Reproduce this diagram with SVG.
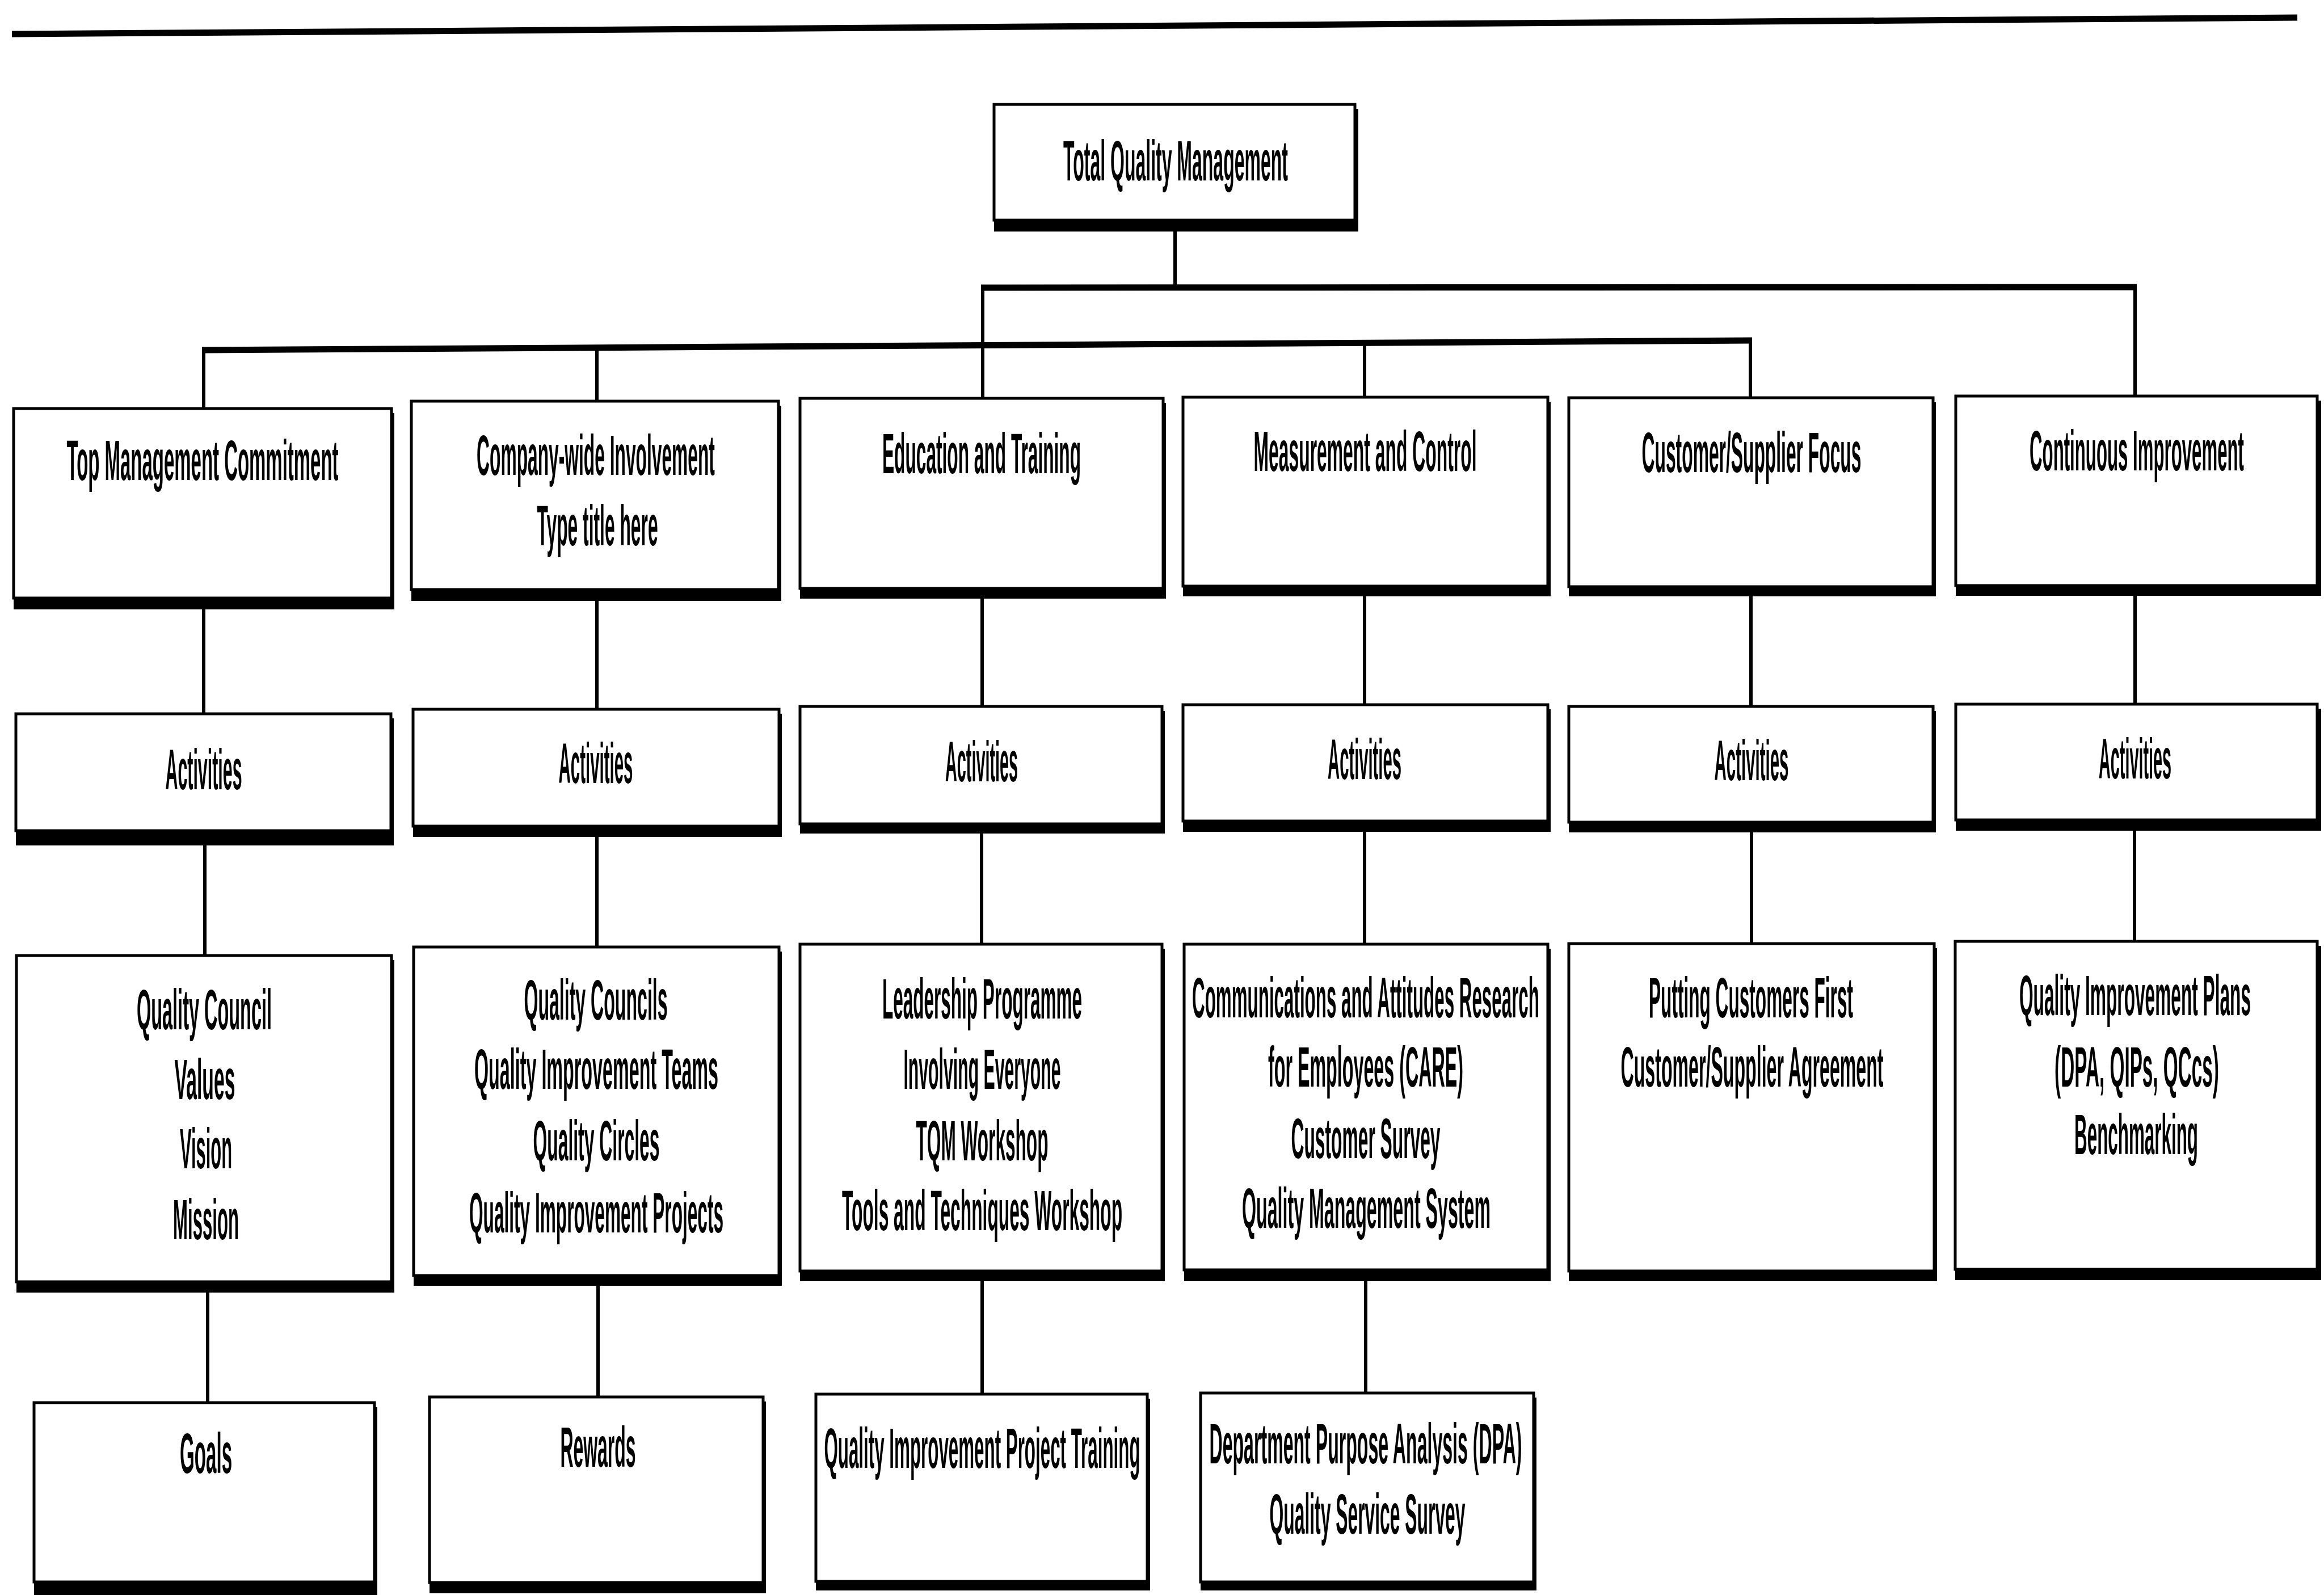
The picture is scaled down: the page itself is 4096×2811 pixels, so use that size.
<svg xmlns="http://www.w3.org/2000/svg" width="4096" height="2811" viewBox="0 0 4096 2811">
<style>
  .bg { fill: #ffffff; }
  .box { fill: #ffffff; stroke: #000000; stroke-width: 5; }
  .sh { fill: #000000; }
  .t { font-family: "Liberation Sans", Arial, sans-serif; font-weight: bold; font-size: 100px; text-anchor: middle; fill: #000000; }
  .c { stroke: #000000; stroke-width: 6; fill: none; }
  .bar { stroke: #000000; stroke-width: 11; fill: none; }
</style>
<rect class="bg" x="0" y="0" width="4096" height="2811"/>

<!-- header rule -->
<line class="bar" x1="21" y1="60" x2="4049" y2="31"/>

<!-- connectors -->
<g id="connectors">
  <line class="c" x1="2071" y1="408" x2="2071" y2="507"/>
  <line class="bar" x1="1729" y1="507" x2="3766" y2="506"/>
  <line class="c" x1="1732" y1="507" x2="1732" y2="702"/>
  <line class="c" x1="3763" y1="506" x2="3763" y2="698"/>
  <line class="bar" x1="356" y1="617" x2="3088" y2="600"/>
  <line class="c" x1="359" y1="617" x2="359" y2="720"/>
  <line class="c" x1="1052" y1="612" x2="1052" y2="707"/>
  <line class="c" x1="2405" y1="604" x2="2405" y2="700"/>
  <line class="c" x1="3085" y1="600" x2="3085" y2="701"/>

  <line class="c" x1="359" y1="1074" x2="359" y2="1258"/>
  <line class="c" x1="1052" y1="1059" x2="1052" y2="1250"/>
  <line class="c" x1="1731" y1="1055" x2="1731" y2="1245"/>
  <line class="c" x1="2405" y1="1051" x2="2405" y2="1242"/>
  <line class="c" x1="3086" y1="1051" x2="3086" y2="1245"/>
  <line class="c" x1="3763" y1="1050" x2="3763" y2="1241"/>

  <line class="c" x1="361" y1="1490" x2="361" y2="1684"/>
  <line class="c" x1="1052" y1="1475" x2="1052" y2="1669"/>
  <line class="c" x1="1730" y1="1469" x2="1730" y2="1664"/>
  <line class="c" x1="2405" y1="1466" x2="2405" y2="1664"/>
  <line class="c" x1="3087" y1="1467" x2="3087" y2="1663"/>
  <line class="c" x1="3762" y1="1464" x2="3762" y2="1659"/>

  <line class="c" x1="366" y1="2278" x2="366" y2="2472"/>
  <line class="c" x1="1054" y1="2266" x2="1054" y2="2462"/>
  <line class="c" x1="1731" y1="2258" x2="1731" y2="2457"/>
  <line class="c" x1="2407" y1="2258" x2="2407" y2="2455"/>
</g>

<!-- level 1 -->
<g id="n-tqm">
  <rect class="sh" x="1752" y="192" width="642" height="216"/>
  <rect class="box" x="1752" y="184" width="636" height="204"/>
  <text class="t" transform="translate(2072 318) scale(0.32 1)" textLength="1237" lengthAdjust="spacingAndGlyphs">Total Quality Management</text>
</g>

<!-- level 2 -->
<g id="n-top-mgmt">
  <rect class="sh" x="24" y="728" width="671" height="346"/>
  <rect class="box" x="24" y="720" width="666" height="334"/>
  <text class="t" transform="translate(357 846) scale(0.32 1)" textLength="1497" lengthAdjust="spacingAndGlyphs">Top Management Commitment</text>
</g>
<g id="n-company">
  <rect class="sh" x="725" y="715" width="652" height="344"/>
  <rect class="box" x="725" y="707" width="647" height="332"/>
  <text class="t" transform="translate(1050 837) scale(0.32 1)" textLength="1312" lengthAdjust="spacingAndGlyphs">Company-wide Involvement</text>
  <text class="t" transform="translate(1053 961) scale(0.32 1)" textLength="666" lengthAdjust="spacingAndGlyphs">Type title here</text>
</g>
<g id="n-education">
  <rect class="sh" x="1410" y="710" width="645" height="345"/>
  <rect class="box" x="1410" y="702" width="640" height="335"/>
  <text class="t" transform="translate(1730 834) scale(0.32 1)" textLength="1094" lengthAdjust="spacingAndGlyphs">Education and Training</text>
</g>
<g id="n-measurement">
  <rect class="sh" x="2085" y="708" width="648" height="343"/>
  <rect class="box" x="2085" y="700" width="643" height="333"/>
  <text class="t" transform="translate(2406 830) scale(0.32 1)" textLength="1228" lengthAdjust="spacingAndGlyphs">Measurement and Control</text>
</g>
<g id="n-customer">
  <rect class="sh" x="2765" y="709" width="647" height="342"/>
  <rect class="box" x="2765" y="701" width="642" height="333"/>
  <text class="t" transform="translate(3087 832) scale(0.32 1)" textLength="1209" lengthAdjust="spacingAndGlyphs">Customer/Supplier Focus</text>
</g>
<g id="n-continuous">
  <rect class="sh" x="3447" y="706" width="644" height="344"/>
  <rect class="box" x="3447" y="698" width="637" height="334"/>
  <text class="t" transform="translate(3766 829) scale(0.32 1)" textLength="1181" lengthAdjust="spacingAndGlyphs">Continuous Improvement</text>
</g>

<!-- level 3: activities -->
<g id="n-act-1">
  <rect class="sh" x="28" y="1266" width="666" height="224"/>
  <rect class="box" x="28" y="1258" width="661" height="206"/>
  <text class="t" transform="translate(359 1391) scale(0.32 1)" textLength="422" lengthAdjust="spacingAndGlyphs">Activities</text>
</g>
<g id="n-act-2">
  <rect class="sh" x="728" y="1258" width="650" height="217"/>
  <rect class="box" x="728" y="1250" width="645" height="206"/>
  <text class="t" transform="translate(1050 1380) scale(0.32 1)" textLength="409" lengthAdjust="spacingAndGlyphs">Activities</text>
</g>
<g id="n-act-3">
  <rect class="sh" x="1410" y="1253" width="643" height="216"/>
  <rect class="box" x="1410" y="1245" width="638" height="207"/>
  <text class="t" transform="translate(1730 1377) scale(0.32 1)" textLength="400" lengthAdjust="spacingAndGlyphs">Activities</text>
</g>
<g id="n-act-4">
  <rect class="sh" x="2085" y="1250" width="648" height="216"/>
  <rect class="box" x="2085" y="1242" width="643" height="205"/>
  <text class="t" transform="translate(2405 1373) scale(0.32 1)" textLength="406" lengthAdjust="spacingAndGlyphs">Activities</text>
</g>
<g id="n-act-5">
  <rect class="sh" x="2765" y="1253" width="647" height="214"/>
  <rect class="box" x="2765" y="1245" width="642" height="204"/>
  <text class="t" transform="translate(3087 1375) scale(0.32 1)" textLength="409" lengthAdjust="spacingAndGlyphs">Activities</text>
</g>
<g id="n-act-6">
  <rect class="sh" x="3447" y="1249" width="644" height="215"/>
  <rect class="box" x="3447" y="1241" width="637" height="204"/>
  <text class="t" transform="translate(3763 1372) scale(0.32 1)" textLength="400" lengthAdjust="spacingAndGlyphs">Activities</text>
</g>

<!-- level 4: programmes -->
<g id="n-council">
  <rect class="sh" x="29" y="1692" width="666" height="586"/>
  <rect class="box" x="29" y="1684" width="661" height="575"/>
  <text class="t" transform="translate(360 1814) scale(0.32 1)" textLength="744" lengthAdjust="spacingAndGlyphs">Quality Council</text>
  <text class="t" transform="translate(361 1937) scale(0.32 1)" textLength="334" lengthAdjust="spacingAndGlyphs">Values</text>
  <text class="t" transform="translate(363 2059) scale(0.32 1)" textLength="288" lengthAdjust="spacingAndGlyphs">Vision</text>
  <text class="t" transform="translate(363 2184) scale(0.32 1)" textLength="362" lengthAdjust="spacingAndGlyphs">Mission</text>
</g>
<g id="n-teams">
  <rect class="sh" x="729" y="1677" width="649" height="589"/>
  <rect class="box" x="729" y="1669" width="644" height="579"/>
  <text class="t" transform="translate(1050 1797) scale(0.32 1)" textLength="791" lengthAdjust="spacingAndGlyphs">Quality Councils</text>
  <text class="t" transform="translate(1051 1919) scale(0.32 1)" textLength="1344" lengthAdjust="spacingAndGlyphs">Quality Improvement Teams</text>
  <text class="t" transform="translate(1051 2045) scale(0.32 1)" textLength="697" lengthAdjust="spacingAndGlyphs">Quality Circles</text>
  <text class="t" transform="translate(1051 2172) scale(0.32 1)" textLength="1400" lengthAdjust="spacingAndGlyphs">Quality Improvement Projects</text>
</g>
<g id="n-leadership">
  <rect class="sh" x="1410" y="1672" width="643" height="586"/>
  <rect class="box" x="1410" y="1664" width="638" height="576"/>
  <text class="t" transform="translate(1731 1795) scale(0.32 1)" textLength="1100" lengthAdjust="spacingAndGlyphs">Leadership Programme</text>
  <text class="t" transform="translate(1731 1919) scale(0.32 1)" textLength="866" lengthAdjust="spacingAndGlyphs">Involving Everyone</text>
  <text class="t" transform="translate(1731 2045) scale(0.32 1)" textLength="728" lengthAdjust="spacingAndGlyphs">TQM Workshop</text>
  <text class="t" transform="translate(1731 2168) scale(0.32 1)" textLength="1544" lengthAdjust="spacingAndGlyphs">Tools and Techniques Workshop</text>
</g>
<g id="n-care">
  <rect class="sh" x="2087" y="1672" width="646" height="586"/>
  <rect class="box" x="2087" y="1664" width="641" height="574"/>
  <text class="t" transform="translate(2407 1793) scale(0.32 1)" textLength="1912" lengthAdjust="spacingAndGlyphs">Communications and Attitudes Research</text>
  <text class="t" transform="translate(2407 1915) scale(0.32 1)" textLength="1075" lengthAdjust="spacingAndGlyphs">for Employees (CARE)</text>
  <text class="t" transform="translate(2407 2041) scale(0.32 1)" textLength="822" lengthAdjust="spacingAndGlyphs">Customer Survey</text>
  <text class="t" transform="translate(2408 2164) scale(0.32 1)" textLength="1369" lengthAdjust="spacingAndGlyphs">Quality Management System</text>
</g>
<g id="n-customers-first">
  <rect class="sh" x="2765" y="1671" width="649" height="587"/>
  <rect class="box" x="2765" y="1663" width="644" height="577"/>
  <text class="t" transform="translate(3086 1793) scale(0.32 1)" textLength="1125" lengthAdjust="spacingAndGlyphs">Putting Customers First</text>
  <text class="t" transform="translate(3088 1915) scale(0.32 1)" textLength="1447" lengthAdjust="spacingAndGlyphs">Customer/Supplier Agreement</text>
</g>
<g id="n-plans">
  <rect class="sh" x="3446" y="1667" width="645" height="589"/>
  <rect class="box" x="3446" y="1659" width="638" height="578"/>
  <text class="t" transform="translate(3763 1789) scale(0.32 1)" textLength="1275" lengthAdjust="spacingAndGlyphs">Quality Improvement Plans</text>
  <text class="t" transform="translate(3766 1915) scale(0.32 1)" textLength="906" lengthAdjust="spacingAndGlyphs">(DPA, QIPs, QCcs)</text>
  <text class="t" transform="translate(3765 2034) scale(0.32 1)" textLength="681" lengthAdjust="spacingAndGlyphs">Benchmarking</text>
</g>

<!-- level 5 -->
<g id="n-goals">
  <rect class="sh" x="60" y="2480" width="605" height="340"/>
  <rect class="box" x="60" y="2472" width="600" height="316"/>
  <text class="t" transform="translate(363 2596) scale(0.32 1)" textLength="288" lengthAdjust="spacingAndGlyphs">Goals</text>
</g>
<g id="n-rewards">
  <rect class="sh" x="757" y="2470" width="593" height="338"/>
  <rect class="box" x="757" y="2462" width="588" height="327"/>
  <text class="t" transform="translate(1054 2585) scale(0.32 1)" textLength="416" lengthAdjust="spacingAndGlyphs">Rewards</text>
</g>
<g id="n-project-training">
  <rect class="sh" x="1438" y="2465" width="589" height="338"/>
  <rect class="box" x="1438" y="2457" width="584" height="330"/>
  <text class="t" transform="translate(1731 2587) scale(0.32 1)" textLength="1741" lengthAdjust="spacingAndGlyphs">Quality Improvement Project Training</text>
</g>
<g id="n-dpa">
  <rect class="sh" x="2116" y="2463" width="592" height="340"/>
  <rect class="box" x="2116" y="2455" width="587" height="333"/>
  <text class="t" transform="translate(2407 2579) scale(0.32 1)" textLength="1722" lengthAdjust="spacingAndGlyphs">Department Purpose Analysis (DPA)</text>
  <text class="t" transform="translate(2410 2703) scale(0.32 1)" textLength="1078" lengthAdjust="spacingAndGlyphs">Quality Service Survey</text>
</g>
</svg>
